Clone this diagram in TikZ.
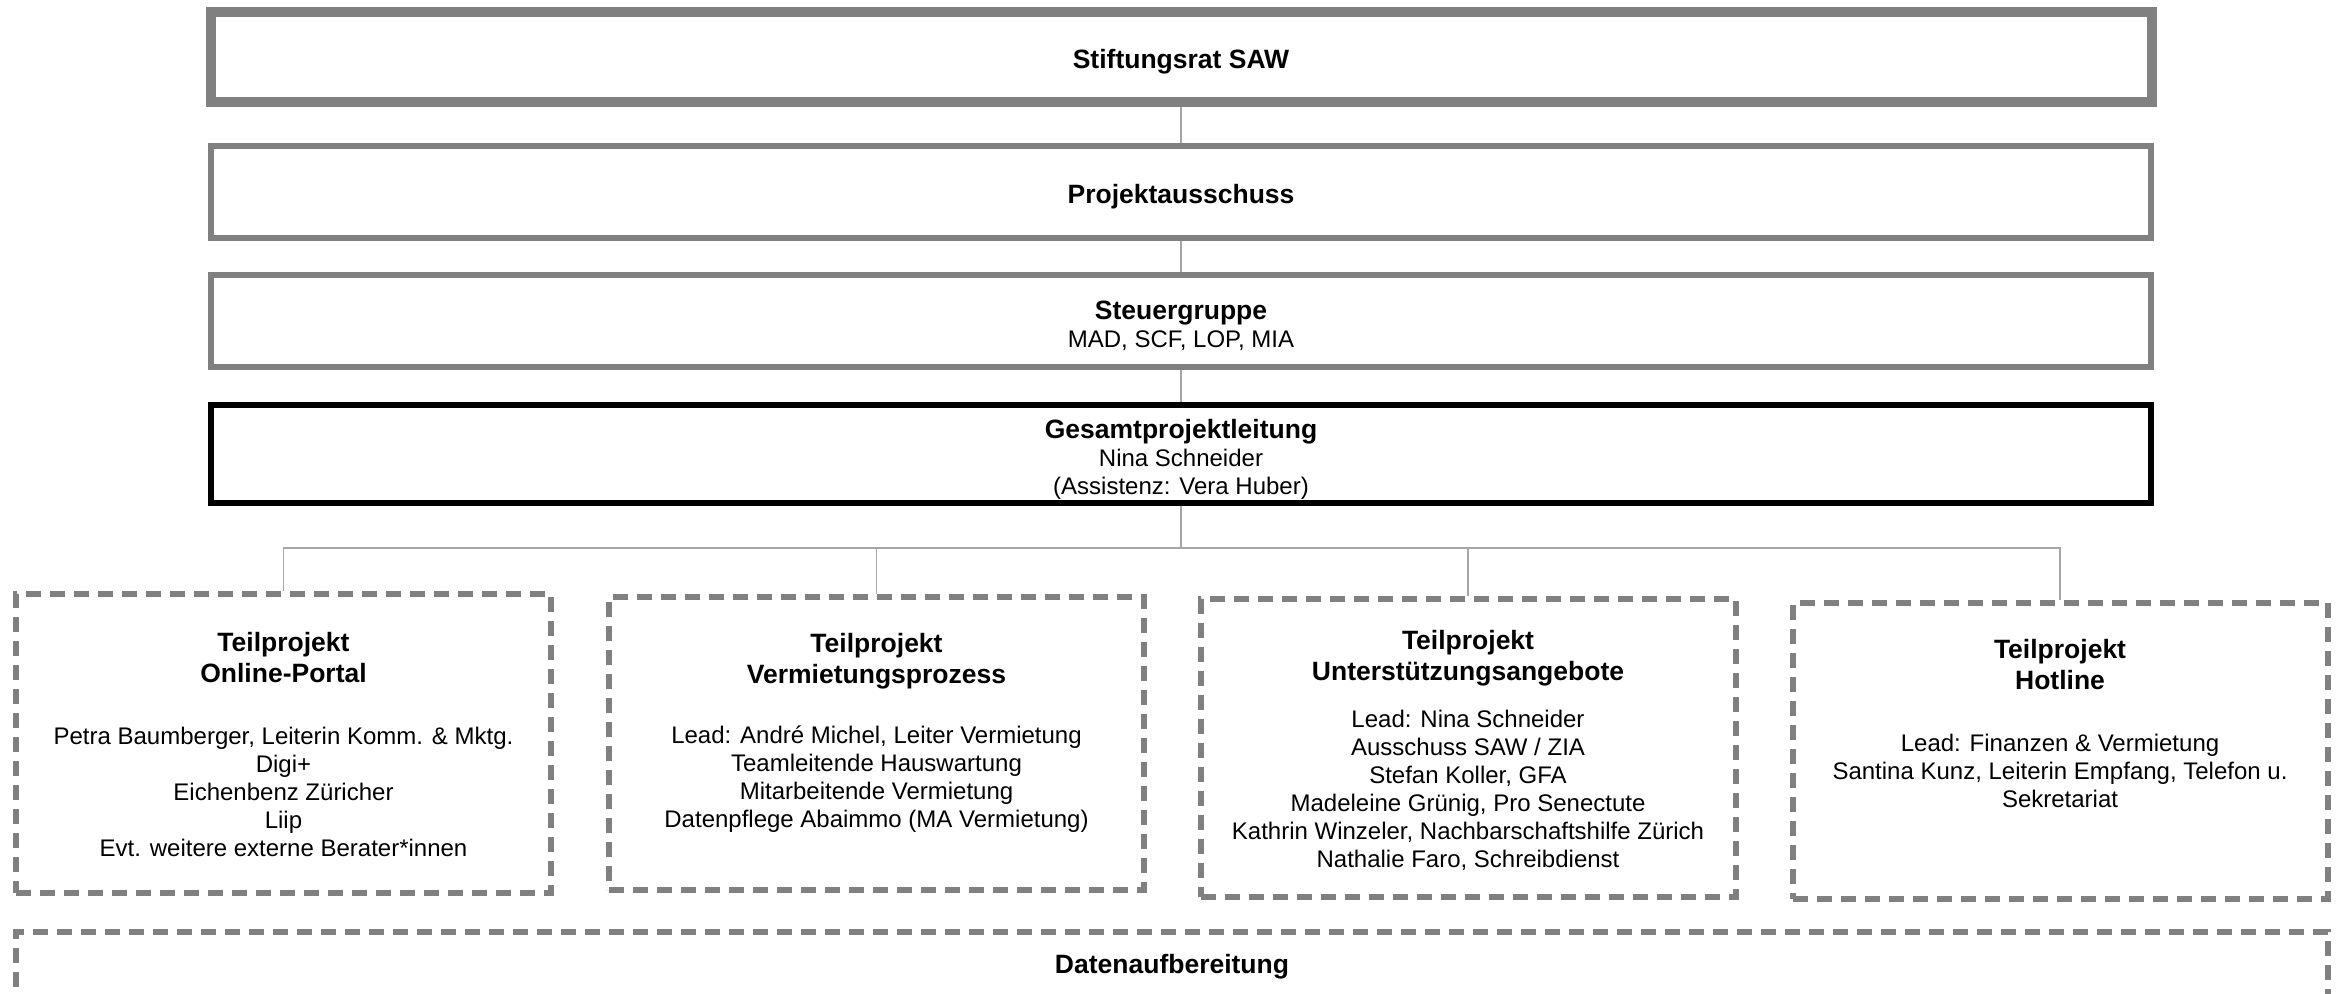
\documentclass[tikz,border=0pt]{standalone}
\usepackage{fontspec}
\setmainfont{Liberation Sans}
\usetikzlibrary{positioning}
\definecolor{FrameGray}{RGB}{128,128,128}
\definecolor{LinkGray}{RGB}{166,166,166}
\newcommand{\boxtitle}[1]{{\fontsize{26.5}{31}\selectfont\bfseries #1}}

\begin{document}
\begin{tikzpicture}[x=1pt, y=-1pt, every node/.style={font=\fontsize{24}{28}\selectfont},
    mainbox/.style={draw=FrameGray, line width=6pt, minimum width=1940pt, minimum height=98pt, inner sep=0pt},
    boxtext/.style={align=center, inner sep=0pt, yshift=-5pt},
    tpbox/.style={draw=FrameGray, line width=6pt, dash pattern=on 15pt off 9pt, minimum width=535pt, minimum height=298pt, inner sep=0pt},
    tptext/.style={align=center, inner sep=0pt},
    link/.style={draw=LinkGray, line width=1.5pt}]
    \useasboundingbox (0,0) rectangle (2341,993);

    % Leitungsebenen
    \node[mainbox, line width=10pt, minimum width=1941pt, minimum height=90pt] (stift) at (1181,57) {};
    \node[mainbox, minimum height=92pt, below=36pt of stift] (ausschuss) {};
    \node[mainbox, minimum height=92pt, below=31pt of ausschuss] (steuer) {};
    \node[mainbox, draw=black, below=32pt of steuer] (gesamt) {};

    \node[boxtext] at (stift) {\boxtitle{Stiftungsrat SAW}};
    \node[boxtext] at (ausschuss) {\boxtitle{Projektausschuss}};
    \node[boxtext] at (steuer) {\boxtitle{Steuergruppe}\\MAD, SCF, LOP, MIA};
    \node[boxtext] at (gesamt) {\boxtitle{Gesamtprojektleitung}\\Nina Schneider\\(Assistenz: Vera Huber)};

    % Teilprojekte
    \node[tpbox, minimum height=299pt] (tp1) at (283.5,743.5) {};
    \node[tpbox, minimum height=293pt] (tp2) at (876.5,743.5) {};
    \node[tpbox] (tp3) at (1468,748) {};
    \node[tpbox, minimum height=296pt] (tp4) at (2060,751) {};
    \node[tpbox, minimum width=2312pt, minimum height=160pt] (daten) at (1172,1012) {};

    \node[tptext, below=41pt of tp1.north] {\boxtitle{Teilprojekt}\\[3pt]\boxtitle{Online-Portal}\\[34pt]
        Petra Baumberger, Leiterin Komm. \& Mktg.\\Digi+\\Eichenbenz Züricher\\Liip\\Evt. weitere externe Berater*innen};
    \node[tptext, below=39pt of tp2.north] {\boxtitle{Teilprojekt}\\[3pt]\boxtitle{Vermietungsprozess}\\[32pt]
        Lead: André Michel, Leiter Vermietung\\Teamleitende Hauswartung\\Mitarbeitende Vermietung\\Datenpflege Abaimmo (MA Vermietung)};
    \node[tptext, below=34pt of tp3.north] {\boxtitle{Teilprojekt}\\[3pt]\boxtitle{Unterstützungsangebote}\\[19pt]
        Lead: Nina Schneider\\Ausschuss SAW / ZIA\\Stefan Koller, GFA\\Madeleine Grünig, Pro Senectute\\Kathrin Winzeler, Nachbarschaftshilfe Zürich\\Nathalie Faro, Schreibdienst};
    \node[tptext, below=39pt of tp4.north] {\boxtitle{Teilprojekt}\\[3pt]\boxtitle{Hotline}\\[34pt]
        Lead: Finanzen \& Vermietung\\Santina Kunz, Leiterin Empfang, Telefon u.\\Sekretariat};
    \node[tptext, below=25pt of daten.north] {\boxtitle{Datenaufbereitung}};

    % Verbindungen
    \coordinate (bus) at (1181,548);
    \draw[link] (stift.south) -- (ausschuss.north);
    \draw[link] (ausschuss.south) -- (steuer.north);
    \draw[link] (steuer.south) -- (gesamt.north);
    \draw[link] (gesamt.south) -- (bus);
    \draw[link] (tp1.north) -- (tp1.north |- bus) -- (tp4.north |- bus) -- (tp4.north);
    \foreach \tp in {tp2,tp3}
        \draw[link] (\tp.north) -- (\tp.north |- bus);
\end{tikzpicture}
\end{document}
